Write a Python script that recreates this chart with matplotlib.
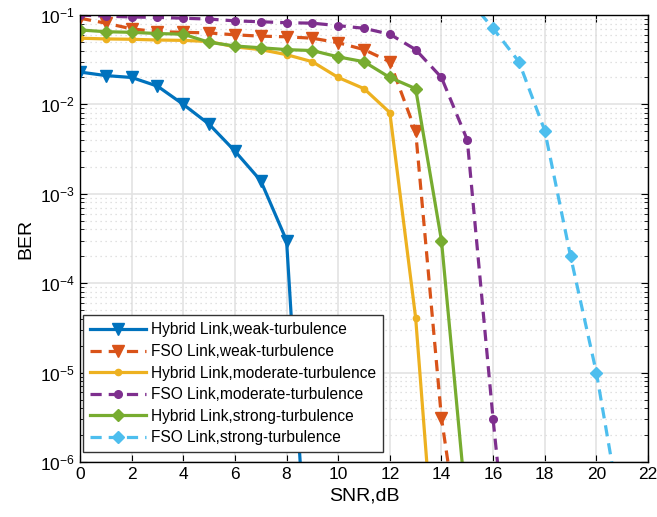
import matplotlib
matplotlib.use("Agg")
import matplotlib.pyplot as plt
import numpy as np

plt.rcParams['font.family'] = ['Liberation Sans', 'DejaVu Sans']

# SNR (dB) for each curve
snr_hyb_weak = [0, 1, 2, 3, 4, 5, 6, 7, 8, 9]
ber_hyb_weak = [0.023, 0.021, 0.020, 0.016, 0.010, 0.006, 0.003, 0.0014, 3e-4, 6e-9]

snr_fso_weak = list(range(0, 16))
ber_fso_weak = [0.092, 0.081, 0.070, 0.065, 0.064, 0.063, 0.060, 0.058, 0.057, 0.055,
                0.049, 0.041, 0.030, 0.005, 3.1e-6, 3.4e-8]

snr_hyb_mod = list(range(0, 15))
ber_hyb_mod = [0.055, 0.054, 0.0535, 0.0525, 0.052, 0.0505, 0.044, 0.041, 0.036, 0.030,
               0.020, 0.015, 0.0081, 4.1e-5, 7.4e-9]

snr_fso_mod = list(range(0, 18))
ber_fso_mod = [0.100, 0.097, 0.095, 0.094, 0.092, 0.090, 0.086, 0.084, 0.082, 0.081,
               0.076, 0.071, 0.061, 0.041, 0.020, 0.004, 3.0e-6, 4.6e-9]

snr_hyb_strong = list(range(0, 16))
ber_hyb_strong = [0.068, 0.065, 0.064, 0.062, 0.061, 0.0495, 0.045, 0.043, 0.041, 0.040,
                  0.034, 0.030, 0.020, 0.015, 3.0e-4, 2.4e-7]

snr_fso_strong = [15, 16, 17, 18, 19, 20, 21]
ber_fso_strong = [0.155, 0.071, 0.030, 0.0051, 2.0e-4, 1.0e-5, 2.1e-7]

labels = ['Hybrid Link,weak-turbulence', 'FSO Link,weak-turbulence',
          'Hybrid Link,moderate-turbulence', 'FSO Link,moderate-turbulence',
          'Hybrid Link,strong-turbulence', 'FSO Link,strong-turbulence']

dash = (0, (3.5, 2.2))

fig = plt.figure(figsize=(6.57, 5.17), dpi=100)
ax = fig.add_axes([0.1218, 0.1064, 0.8645, 0.8646])

ax.semilogy(snr_hyb_weak, ber_hyb_weak, color='#0072BD', lw=2.3, marker='v', ms=9,
            label=labels[0])
ax.semilogy(snr_fso_weak, ber_fso_weak, color='#D95319', lw=2.3, ls=dash, marker='v', ms=9,
            label=labels[1])
ax.semilogy(snr_hyb_mod, ber_hyb_mod, color='#EDB120', lw=2.3, marker='o', ms=4.5,
            label=labels[2])
ax.semilogy(snr_fso_mod, ber_fso_mod, color='#7E2F8E', lw=2.3, ls=dash, marker='o', ms=5.5,
            label=labels[3])
ax.semilogy(snr_hyb_strong, ber_hyb_strong, color='#77AC30', lw=2.3, marker='D', ms=6.5,
            label=labels[4])
ax.semilogy(snr_fso_strong, ber_fso_strong, color='#4DBEEE', lw=2.3, ls=dash, marker='D', ms=6.5,
            label=labels[5])

ax.set_xlim(0, 22)
ax.set_ylim(1e-6, 1e-1)
ax.set_xticks(np.arange(0, 23, 2))
ax.set_yticks([1e-6, 1e-5, 1e-4, 1e-3, 1e-2, 1e-1])

ax.grid(True, which='major', color='#e3e3e3', lw=1.2)
ax.grid(True, which='minor', axis='y', color='#d8d8d8', lw=0.9, ls=(0, (1, 3)))
ax.set_axisbelow(True)

ax.tick_params(which='both', direction='in', top=True, right=True, labelsize=12.5)
ax.tick_params(which='major', length=5)
ax.tick_params(which='minor', length=3)
ax.tick_params(axis='x', which='minor', top=False, bottom=False)
for s in ax.spines.values():
    s.set_linewidth(1.0)

ax.set_xlabel('SNR,dB', fontsize=14)
ax.set_ylabel('BER', fontsize=14)

leg = ax.legend(loc='lower left', fontsize=11.2, handlelength=3.6, borderpad=0.45,
                labelspacing=0.42, handletextpad=0.3, fancybox=False, framealpha=1,
                edgecolor='#333333', borderaxespad=0, bbox_to_anchor=(0.005, 0.022))
leg.get_frame().set_linewidth(1.0)

fig.savefig('out.png', dpi=100)
